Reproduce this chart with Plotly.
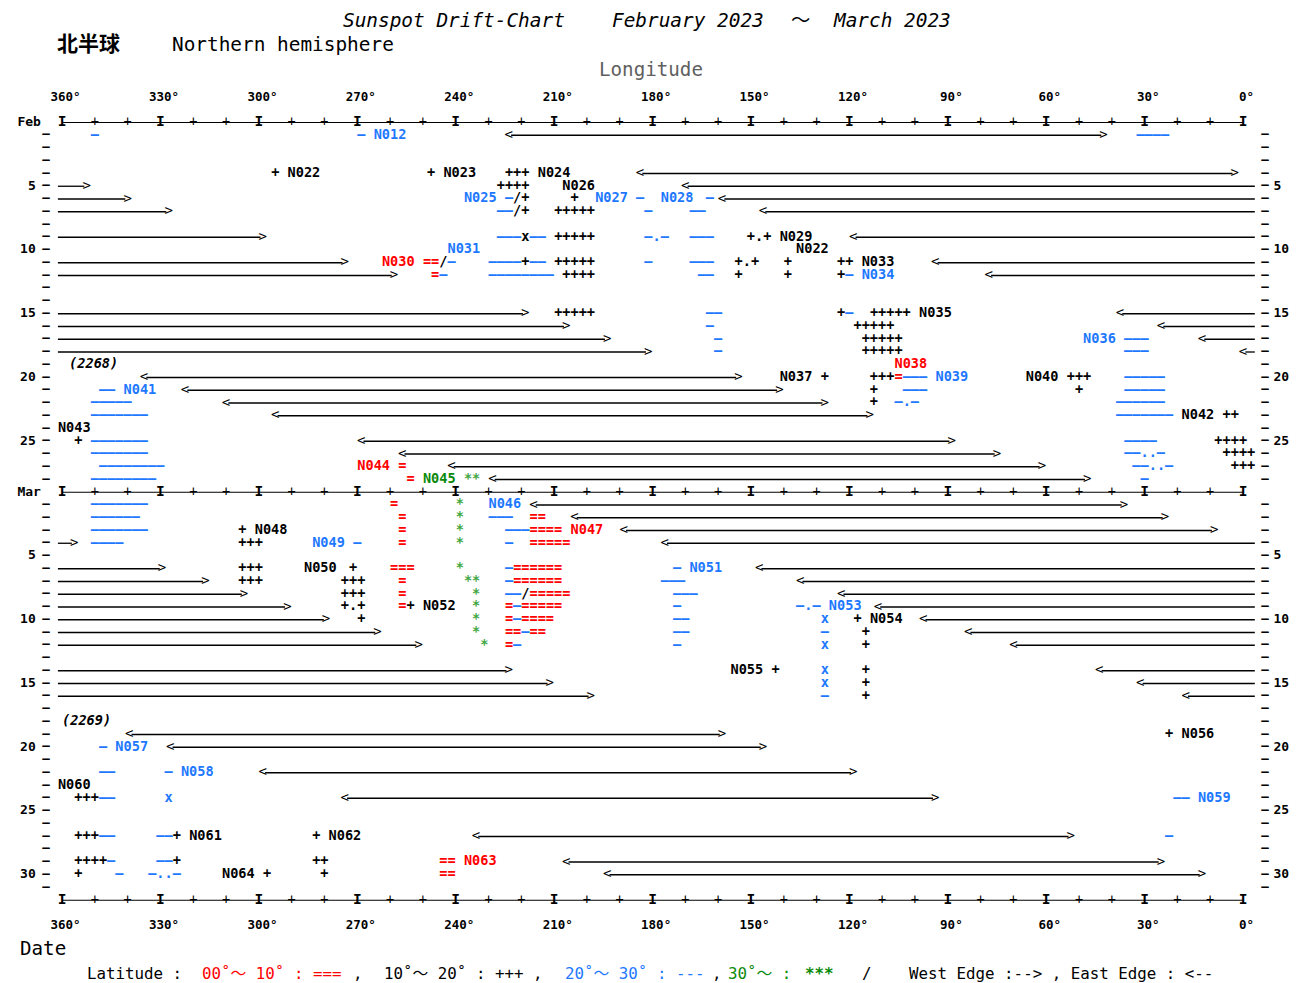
import plotly.graph_objects as go

# ---------------- data ----------------
# dates are (month, day): "F" = February 2023, "M" = March 2023
edge_days = [("F",1),("F",4),("F",5),("F",6),("F",7),("F",9),("F",11),("F",12),("F",15),("F",16),
             ("F",17),("F",18),("F",20),("F",21),("F",22),("F",23),("F",25),("F",26),("F",27),("F",28),
             ("M",1),("M",2),("M",3),("M",4),("M",6),("M",7),("M",8),("M",9),("M",10),("M",11),
             ("M",12),("M",14),("M",15),("M",16),("M",19),("M",20),("M",22),("M",24),("M",27),("M",29),("M",30)]
east_edge = [223.8,183.8,170.0,158.8,146.3,118.8,93.8,77.5,37.5,25.0,
             12.5,0.0,335.0,322.5,310.0,295.0,268.8,256.3,241.3,228.8,
             216.3,203.8,188.8,176.3,147.5,135.0,122.5,111.3,97.5,83.8,
             70.0,43.8,31.3,17.5,339.5,327.0,298.8,273.8,233.8,206.3,193.8]
west_edge = [42.5,2.5,352.5,340.0,327.5,298.8,273.8,258.8,218.8,206.3,
             193.8,181.3,153.8,141.3,127.5,113.8,88.8,75.0,61.3,47.5,
             36.3,23.8,8.8,356.3,329.5,316.3,304.5,291.3,279.5,263.8,
             251.3,223.8,211.3,198.8,158.8,146.3,118.8,93.8,52.5,25.0,12.5]

# latitude 10-20 deg (black "+"), plus "/", "x", "." markers
lat_10_20 = [
 ("F",4,295.0,"+"),("F",4,247.5,"+"),("F",4,223.75,"+++"),
 ("F",5,226.25,"++++"),
 ("F",6,221.25,"/+"),("F",6,203.75,"+"),
 ("F",7,221.25,"/+"),("F",7,208.75,"+++++"),
 ("F",9,218.75,"x"),("F",9,208.75,"+++++"),("F",9,150.0,"+.+"),
 ("F",11,243.75,"/"),("F",11,218.75,"+"),("F",11,208.75,"+++++"),("F",11,153.75,"+.+"),("F",11,138.75,"+"),("F",11,122.5,"++"),
 ("F",12,206.25,"++++"),("F",12,153.75,"+"),("F",12,138.75,"+"),("F",12,122.5,"+"),
 ("F",15,208.75,"+++++"),("F",15,122.5,"+"),("F",15,112.5,"+++++"),
 ("F",16,117.5,"+++++"),
 ("F",17,115.0,"+++++"),
 ("F",18,115.0,"+++++"),
 ("F",20,127.5,"+"),("F",20,112.5,"+++"),("F",20,52.5,"+++"),
 ("F",21,112.5,"+"),("F",21,50.0,"+"),
 ("F",22,112.5,"+"),
 ("F",23,5.0,"++"),
 ("F",25,355.0,"+"),("F",25,7.5,"++++"),
 ("F",26,5.0,"++++"),
 ("F",27,2.5,"+++"),
 ("M",3,305.0,"+"),
 ("M",4,305.0,"+++"),
 ("M",6,305.0,"+++"),("M",6,271.25,"+"),
 ("M",7,305.0,"+++"),("M",7,273.75,"+++"),
 ("M",8,273.75,"+++"),("M",8,218.75,"/"),
 ("M",9,273.75,"+.+"),("M",9,253.75,"+"),
 ("M",10,268.75,"+"),("M",10,117.5,"+"),
 ("M",11,115.0,"+"),
 ("M",12,115.0,"+"),
 ("M",14,142.5,"+"),("M",14,115.0,"+"),
 ("M",15,115.0,"+"),
 ("M",16,115.0,"+"),
 ("M",19,22.5,"+"),
 ("M",24,355.0,"+++"),
 ("M",27,355.0,"+++"),("M",27,325.0,"+"),("M",27,282.5,"+"),
 ("M",29,355.0,"++++"),("M",29,325.0,"+"),("M",29,282.5,"++"),
 ("M",30,355.0,"+"),("M",30,297.5,"+"),("M",30,280.0,"+"),
]

# latitude 20-30 deg (blue "-")
lat_20_30 = [
 ("F",1,350.0,"-"),("F",1,268.75,"-"),("F",1,31.25,"----"),
 ("F",6,223.75,"-"),("F",6,183.75,"-"),("F",6,162.5,"-"),
 ("F",7,226.25,"--"),("F",7,181.25,"-"),("F",7,167.5,"--"),
 ("F",9,226.25,"---"),("F",9,216.25,"--"),("F",9,181.25,"-.-"),("F",9,167.5,"---"),
 ("F",11,241.25,"-"),("F",11,228.75,"----"),("F",11,216.25,"--"),("F",11,181.25,"-"),("F",11,167.5,"---"),
 ("F",12,243.75,"-"),("F",12,228.75,"--------"),("F",12,165.0,"--"),("F",12,120.0,"-"),
 ("F",15,162.5,"--"),("F",15,120.0,"-"),
 ("F",16,162.5,"-"),
 ("F",17,160.0,"-"),("F",17,35.0,"---"),
 ("F",18,160.0,"-"),("F",18,35.0,"---"),
 ("F",20,102.5,"---"),("F",20,35.0,"-----"),
 ("F",21,347.5,"--"),("F",21,102.5,"---"),("F",21,35.0,"-----"),
 ("F",22,350.0,"-----"),("F",22,105.0,"-.-"),("F",22,37.5,"------"),
 ("F",23,350.0,"-------"),("F",23,37.5,"-------"),
 ("F",25,350.0,"-------"),("F",25,35.0,"----"),
 ("F",26,350.0,"-------"),("F",26,35.0,"--..-"),
 ("F",27,347.5,"--------"),("F",27,32.5,"--..-"),
 ("F",28,350.0,"--------"),("F",28,30.0,"-"),
 ("M",1,350.0,"-------"),
 ("M",2,350.0,"------"),("M",2,228.75,"---"),
 ("M",3,350.0,"-------"),("M",3,223.75,"---"),
 ("M",4,350.0,"----"),("M",4,270.0,"-"),("M",4,223.75,"-"),
 ("M",6,223.75,"-"),("M",6,172.5,"-"),
 ("M",7,223.75,"-"),("M",7,176.25,"---"),
 ("M",8,223.75,"--"),("M",8,172.5,"---"),
 ("M",9,221.25,"-"),("M",9,172.5,"-"),("M",9,135.0,"-.-"),
 ("M",10,221.25,"-"),("M",10,172.5,"--"),("M",10,127.5,"x"),
 ("M",11,218.75,"-"),("M",11,172.5,"--"),("M",11,127.5,"-"),
 ("M",12,221.25,"-"),("M",12,172.5,"-"),("M",12,127.5,"x"),
 ("M",14,127.5,"x"),
 ("M",15,127.5,"x"),
 ("M",16,127.5,"-"),
 ("M",20,347.5,"-"),
 ("M",22,347.5,"--"),("M",22,327.5,"-"),
 ("M",24,347.5,"--"),("M",24,327.5,"x"),("M",24,20.0,"--"),
 ("M",27,347.5,"--"),("M",27,330.0,"--"),("M",27,22.5,"-"),
 ("M",29,345.0,"-"),("M",29,330.0,"--"),
 ("M",30,342.5,"-"),("M",30,332.5,"-..-"),
]

# latitude 0-10 deg (red "=")
lat_00_10 = [
 ("F",11,248.75,"=="),
 ("F",12,246.25,"="),
 ("F",20,105.0,"="),
 ("F",27,256.25,"="),
 ("F",28,253.75,"="),
 ("M",1,258.75,"="),
 ("M",2,256.25,"="),("M",2,216.25,"=="),
 ("M",3,256.25,"="),("M",3,216.25,"===="),
 ("M",4,256.25,"="),("M",4,216.25,"====="),
 ("M",6,258.75,"==="),("M",6,221.25,"======"),
 ("M",7,256.25,"="),("M",7,221.25,"======"),
 ("M",8,256.25,"="),("M",8,216.25,"====="),
 ("M",9,256.25,"="),("M",9,223.75,"="),("M",9,218.75,"====="),
 ("M",10,223.75,"="),("M",10,218.75,"===="),
 ("M",11,223.75,"=="),("M",11,216.25,"=="),
 ("M",12,223.75,"="),
 ("M",29,243.75,"=="),
 ("M",30,243.75,"=="),
]

# latitude 30 deg and above (green "*")
lat_30_up = [
 ("F",28,236.25,"**"),
 ("M",1,238.75,"*"),("M",2,238.75,"*"),("M",3,238.75,"*"),("M",4,238.75,"*"),
 ("M",6,238.75,"*"),("M",7,236.25,"**"),("M",8,233.75,"*"),("M",9,233.75,"*"),
 ("M",10,233.75,"*"),("M",11,233.75,"*"),("M",12,231.25,"*"),
]

# group names: (month, day, longitude of first letter, name, latitude class)
group_labels = [
 ("F",1,263.75,"N012","b"),("F",4,290.0,"N022","k"),("F",4,242.5,"N023","k"),
 ("F",4,213.75,"N024","k"),("F",5,206.25,"N026","k"),("F",6,236.25,"N025","b"),
 ("F",6,196.25,"N027","b"),("F",6,176.25,"N028","b"),("F",9,140.0,"N029","k"),
 ("F",10,241.25,"N031","b"),("F",10,135.0,"N022","k"),("F",11,261.25,"N030","r"),
 ("F",11,115.0,"N033","k"),("F",12,115.0,"N034","b"),("F",15,97.5,"N035","k"),
 ("F",17,47.5,"N036","b"),("F",19,105.0,"N038","r"),("F",20,140.0,"N037","k"),
 ("F",20,92.5,"N039","b"),("F",20,65.0,"N040","k"),("F",21,340.0,"N041","b"),
 ("F",23,17.5,"N042","k"),("F",24,360.0,"N043","k"),("F",27,268.75,"N044","r"),
 ("F",28,248.75,"N045","g"),("M",1,228.75,"N046","b"),("M",3,203.75,"N047","r"),
 ("M",3,300.0,"N048","k"),("M",4,282.5,"N049","b"),("M",6,285.0,"N050","k"),
 ("M",6,167.5,"N051","b"),("M",9,248.75,"N052","k"),("M",9,125.0,"N053","b"),
 ("M",10,112.5,"N054","k"),("M",14,155.0,"N055","k"),("M",19,17.5,"N056","k"),
 ("M",20,342.5,"N057","b"),("M",22,322.5,"N058","b"),("M",23,360.0,"N060","k"),
 ("M",24,12.5,"N059","b"),("M",27,320.0,"N061","k"),("M",27,277.5,"N062","k"),
 ("M",29,236.25,"N063","r"),("M",30,310.0,"N064","k"),
]

region_numbers = [("F",19,356.6,"(2268)"),("M",18,358.75,"(2269)")]

lon_major = [360,330,300,270,240,210,180,150,120,90,60,30,0]
lon_minor = [350,340,320,310,290,280,260,250,230,220,200,190,170,160,140,130,110,100,80,70,50,40,20,10]
feb_day_labels = [5,10,15,20,25]
mar_day_labels = [5,10,15,20,25,30]
month_names = ["Feb","Mar"]

# ---------------- styling ----------------
MONO = "DejaVu Sans Mono, Noto Sans CJK SC"
BLACK, RED, BLUE = "#000000", "#FF0000", "#1E78FF"
GREEN_MARK, GREEN_LABEL = "#3FA63F", "#0A8A0A"
CLASS_COLOR = {"k": BLACK, "r": RED, "b": BLUE, "g": GREEN_LABEL}
CH = 2.5            # degrees per character cell
W_PX, H_PX = 1310, 983
X0, PXDEG = 62.0, 3.2806   # pixel of 360 deg, pixels per degree
Y0, PXROW = 122.5, 12.75   # pixel of the Feb axis row, pixels per row


def row(m, d):
    return d if m == "F" else 29 + d


fig = go.Figure()


def add_text(xs, ys, ts, color, size=13.6, weight="bold", pos="middle center", style="normal"):
    fig.add_trace(go.Scatter(
        x=xs, y=ys, text=ts, mode="text", textposition=pos, cliponaxis=False,
        textfont=dict(family=MONO, size=size, color=color, weight=weight, style=style),
        hoverinfo="skip", showlegend=False))


def add_marks(entries, color, disp=lambda s: s, size=13.6):
    xs, ys, ts = [], [], []
    for m, d, lon, s in entries:
        xs.append(lon - CH / 2 * (len(s) - 1))
        ys.append(row(m, d))
        ts.append(disp(s))
    add_text(xs, ys, ts, color, size=size)


# longitude scale rows (Feb, Mar, bottom)
axis_rows = [0, 29, 61]
ax_x, ax_y = [], []
for r in axis_rows:
    ax_x += [360, 0, None]
    ax_y += [r, r, None]
fig.add_trace(go.Scatter(x=ax_x, y=ax_y, mode="lines", line=dict(color=BLACK, width=1.2),
                         hoverinfo="skip", showlegend=False))
add_text([v for r in axis_rows for v in lon_major], [r for r in axis_rows for v in lon_major],
         ["I"] * (len(lon_major) * len(axis_rows)), BLACK, size=14.5, weight="bold")
add_text([v for r in axis_rows for v in lon_minor], [r for r in axis_rows for v in lon_minor],
         ["+"] * (len(lon_minor) * len(axis_rows)), BLACK, size=13.6, weight="normal")

# longitude labels
for r_lab in (-1.96, 62.98):
    add_text([v - 1.1 for v in lon_major], [r_lab] * len(lon_major),
             [f"{v}°" for v in lon_major], BLACK, size=12.5)

# date ticks and labels
tick_rows = [r for r in range(1, 61) if r != 29]
add_text([364.9] * len(tick_rows), tick_rows, ["–"] * len(tick_rows), BLACK, size=12.5)
add_text([-6.7] * len(tick_rows), tick_rows, ["–"] * len(tick_rows), BLACK, size=12.5)
day_rows = [row("F", d) for d in feb_day_labels] + [row("M", d) for d in mar_day_labels]
day_txt = [str(d) for d in feb_day_labels + mar_day_labels]
add_text([368.0] * len(day_rows), day_rows, day_txt, BLACK, size=13, pos="middle left")
add_text([-9.3] * len(day_rows), day_rows, day_txt, BLACK, size=13, pos="middle right")
add_text([373.6, 373.6], [0, 29], month_names, BLACK, size=13, pos="middle right")

# limb edges (invisible hemisphere)
LEFT_END, RIGHT_END = 361.25, -3.6
ln_x, ln_y, ch_x, ch_y, ch_t = [], [], [], [], []
for (m, d), e, w in zip(edge_days, east_edge, west_edge):
    r = row(m, d)
    ch_x += [e, w]; ch_y += [r, r]; ch_t += ["<", ">"]
    if w < e:
        ln_x += [e - 0.7, w + 0.7, None]; ln_y += [r, r, None]
    else:
        ln_x += [LEFT_END, w + 0.7, None, e - 0.7, RIGHT_END, None]
        ln_y += [r, r, None, r, r, None]
fig.add_trace(go.Scatter(x=ln_x, y=ln_y, mode="lines", line=dict(color=BLACK, width=1.3),
                         hoverinfo="skip", showlegend=False))
add_text(ch_x, ch_y, ch_t, BLACK, size=14, weight="normal")

# sunspot marks
add_marks(lat_10_20, BLACK)
add_marks(lat_20_30, BLUE, disp=lambda s: s.replace("-", "–"))
add_marks(lat_00_10, RED)
add_marks(lat_30_up, GREEN_MARK)

# group names
lx, ly, lt, lc = [], [], [], []
for m, d, lon, name, cls in group_labels:
    lx.append(lon - CH / 2 * (len(name) - 1)); ly.append(row(m, d))
    lt.append(name); lc.append(CLASS_COLOR[cls])
add_text(lx, ly, lt, lc)
add_text([lon - CH / 2 * (len(s) - 1) for m, d, lon, s in region_numbers],
         [row(m, d) for m, d, lon, s in region_numbers],
         [s for m, d, lon, s in region_numbers], BLACK, size=13.6, style="italic")

# ---------------- page texts ----------------
def ann(px, py, text, size, color=BLACK, weight="normal", style="normal", xanchor="left"):
    fig.add_annotation(x=px / W_PX, y=1 - py / H_PX, xref="paper", yref="paper",
                       text=text, showarrow=False, xanchor=xanchor, yanchor="middle",
                       font=dict(family=MONO, size=size, color=color, weight=weight, style=style),
                       borderpad=0)

ann(342, 20, "Sunspot Drift-Chart", 19.4, style="italic")
ann(611, 20, "February 2023", 19.4, style="italic")
ann(800, 20, "～", 19.4, xanchor="center")
ann(832, 20, "March 2023", 19.4, style="italic")
ann(56, 44, "北半球", 21, weight="bold")
ann(171, 44, "Northern hemisphere", 19.4)
ann(598, 69, "Longitude", 19.2, color="#606060")
ann(19, 948, "Date", 19.2)
LY = 973
ann(86, LY, "Latitude :", 15.8)
ann(201, LY, "00˚～ 10˚ : ===", 15.8, color=RED)
ann(352, LY, ",", 15.8)
ann(383, LY, "10˚～ 20˚ : +++ ,", 15.8)
ann(564, LY, "20˚～ 30˚ : ---", 15.8, color=BLUE)
ann(711, LY, ",", 15.8)
ann(727, LY, "30˚～ :", 15.8, color=GREEN_LABEL)
ann(804, LY, "***", 15.8, color=GREEN_LABEL, weight="bold")
ann(861, LY, "/", 15.8)
ann(908, LY, "West Edge :--> , East Edge : <--", 15.8)

x_lo = 360 + X0 / PXDEG
x_hi = 360 - (W_PX - X0) / PXDEG
y_top = -Y0 / PXROW
y_bot = (H_PX - Y0) / PXROW

fig.update_layout(
    width=W_PX, height=H_PX, margin=dict(l=0, r=0, t=0, b=0, pad=0),
    paper_bgcolor="white", plot_bgcolor="white", showlegend=False,
    xaxis=dict(range=[x_lo, x_hi], visible=False, fixedrange=True),
    yaxis=dict(range=[y_bot, y_top], visible=False, fixedrange=True),
)

fig.write_html("out.html", config={"displayModeBar": False},
               post_script="document.body.style.margin='0px';")
